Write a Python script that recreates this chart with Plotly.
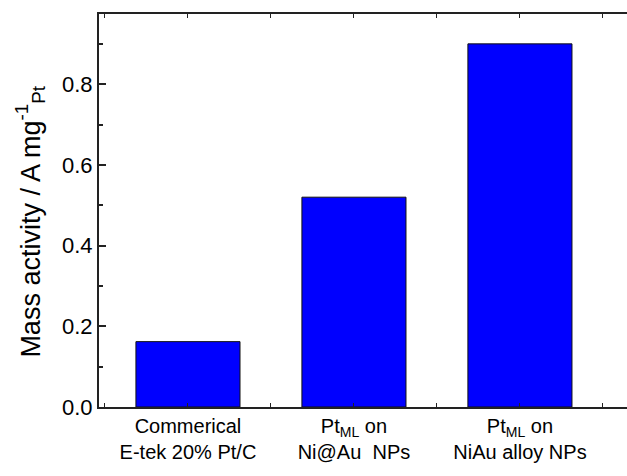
import plotly.graph_objects as go

categories = [
    "Commerical<br>E-tek 20% Pt/C",
    "Pt<sub>ML</sub> on<br>Ni@Au  NPs",
    "Pt<sub>ML</sub> on<br>NiAu alloy NPs",
]
mass_activity = [0.162, 0.52, 0.90]
y_ticks = [0.0, 0.2, 0.4, 0.6, 0.8]
y_tick_labels = ["0.0", "0.2", "0.4", "0.6", "0.8"]

xpos = [i + 1 for i in range(len(categories))]

fig = go.Figure()
fig.add_trace(go.Bar(
    x=xpos, y=mass_activity,
    marker=dict(color="#0000FF", line=dict(color="#111111", width=1)),
))

axis_font = dict(family="Liberation Sans, Arial, sans-serif", color="#000000")

fig.update_layout(
    width=627, height=476,
    margin=dict(l=99, r=0, t=14, b=69),
    paper_bgcolor="white", plot_bgcolor="white",
    showlegend=False,
    bargap=0.373,
    font=axis_font,
    xaxis=dict(
        range=[0.464, 3.645],
        tickvals=xpos, ticktext=categories,
        tickfont=dict(size=20, **axis_font),
        ticks="inside", ticklen=4, tickwidth=1, tickcolor="#222",
        showline=True, linecolor="#222", linewidth=2, mirror="ticks",
        showgrid=False, zeroline=False, automargin=False,
        minor=dict(tick0=0.5, dtick=0.5, ticks="inside", ticklen=4, tickcolor="#222"),
    ),
    yaxis=dict(
        range=[0, 0.974],
        tickvals=y_ticks, ticktext=y_tick_labels,
        tickfont=dict(size=22, **axis_font),
        ticks="inside", ticklen=7, tickwidth=1.5, tickcolor="#222",
        showline=True, linecolor="#222", linewidth=2,
        showgrid=False, zeroline=False, automargin=False,
        minor=dict(tick0=0.1, dtick=0.2, ticks="inside", ticklen=4, tickcolor="#222"),
        title=dict(text="Mass activity / A mg<sup>-1</sup><sub>Pt</sub>&nbsp;&nbsp;&nbsp;",
                   font=dict(size=27, **axis_font), standoff=14),
    ),
)

fig.write_html("out.html", post_script="document.body.style.margin='0';",
               config={"displayModeBar": False})
